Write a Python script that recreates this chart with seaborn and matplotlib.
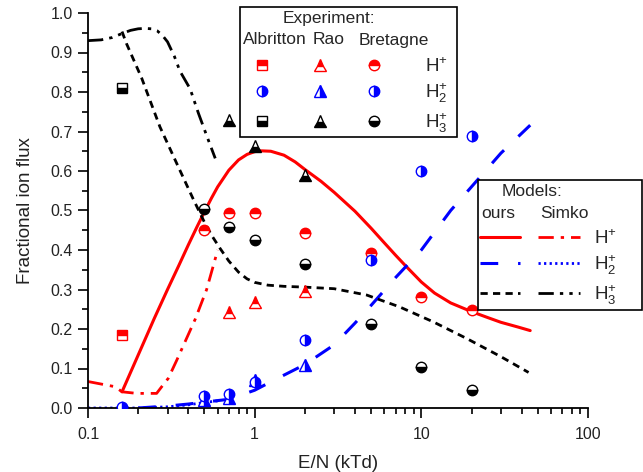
import numpy as np
import matplotlib
matplotlib.use("Agg")
import matplotlib.pyplot as plt
from matplotlib.lines import Line2D
from matplotlib.patches import Rectangle
from matplotlib.ticker import LogLocator, MultipleLocator, FixedLocator, NullFormatter
import seaborn as sns

# ---------------- model curves ----------------
ours_hp_x = [0.16, 0.2, 0.25, 0.3, 0.35, 0.4, 0.45, 0.5, 0.55, 0.6, 0.7, 0.8, 0.9, 1.0, 1.1,
             1.25, 1.5, 1.75, 2, 2.5, 3, 4, 5, 6, 7, 8, 10, 12, 15, 20, 25, 30, 38, 45]
ours_hp_y = [0.041, 0.134, 0.227, 0.300, 0.360, 0.413, 0.458, 0.497, 0.531, 0.560, 0.602, 0.628,
             0.642, 0.649, 0.651, 0.650, 0.640, 0.623, 0.604, 0.574, 0.546, 0.498, 0.455, 0.418,
             0.387, 0.361, 0.319, 0.291, 0.266, 0.244, 0.229, 0.217, 0.205, 0.196]

ours_h2_x = [0.2, 0.3, 0.4, 0.5, 0.7, 1.0, 1.3, 2.0, 3.0, 4.0, 5.0, 7.0, 10, 15, 20, 30, 45]
ours_h2_y = [0.0, 0.005, 0.010, 0.015, 0.022, 0.045, 0.070, 0.110, 0.160, 0.215, 0.260, 0.330,
             0.400, 0.500, 0.560, 0.645, 0.716]

ours_h3_x = [0.16, 0.17, 0.21, 0.27, 0.34, 0.43, 0.5, 0.55, 0.62, 0.7, 0.8, 0.9, 1.0, 1.2, 1.5,
             2.0, 3.0, 4.7, 7.4, 11.8, 18.7, 30, 44]
ours_h3_y = [0.953, 0.923, 0.835, 0.712, 0.620, 0.527, 0.470, 0.438, 0.404, 0.372, 0.344, 0.327,
             0.318, 0.311, 0.308, 0.306, 0.302, 0.286, 0.256, 0.218, 0.176, 0.130, 0.090]

simko_hp_x = [0.1, 0.145, 0.16, 0.196, 0.258, 0.277, 0.303, 0.34, 0.44, 0.515, 0.6]
simko_hp_y = [0.067, 0.054, 0.041, 0.037, 0.037, 0.054, 0.075, 0.120, 0.225, 0.300, 0.400]

simko_h2_x = [0.1, 0.2, 0.3, 0.4, 0.5, 0.6]
simko_h2_y = [0.0, 0.0, 0.003, 0.008, 0.014, 0.018]

simko_h3_x = [0.1, 0.12, 0.14, 0.16, 0.18, 0.2, 0.22, 0.24, 0.26, 0.28, 0.3, 0.33, 0.356, 0.41,
              0.46, 0.52, 0.58]
simko_h3_y = [0.930, 0.932, 0.938, 0.948, 0.956, 0.960, 0.961, 0.960, 0.955, 0.943, 0.927, 0.890,
              0.853, 0.808, 0.746, 0.685, 0.632]

# ---------------- experimental points ----------------
alb_x = [0.16]
alb_hp = [0.185]
alb_h2 = [0.003]
alb_h3 = [0.81]

rao_hp_x = [0.7, 1.0, 2.0]
rao_hp_y = [0.242, 0.268, 0.297]
rao_h2_x = [0.5, 0.7, 1.0, 2.0]
rao_h2_y = [0.020, 0.025, 0.070, 0.109]
rao_h3_x = [0.7, 1.0, 2.0]
rao_h3_y = [0.730, 0.663, 0.590]

bre_x = [0.5, 0.7, 1.0, 2.0, 5.0, 10.0, 20.0]
bre_hp = [0.450, 0.493, 0.493, 0.442, 0.393, 0.280, 0.248]
bre_h2 = [0.030, 0.035, 0.065, 0.172, 0.375, 0.600, 0.689]
bre_h3 = [0.503, 0.457, 0.425, 0.364, 0.212, 0.103, 0.046]

x_ticks = [0.1, 1, 10, 100]
x_ticklabels = ["0.1", "1", "10", "100"]

RED, BLUE, BLACK = "#ff0000", "#0000ff", "#000000"

sns.set_style("ticks")
plt.rcParams["font.family"] = ["Liberation Sans", "DejaVu Sans"]
plt.rcParams["mathtext.fontset"] = "custom"
plt.rcParams["mathtext.rm"] = "Liberation Sans"
plt.rcParams["mathtext.it"] = "Liberation Sans"

W, H = 643, 472
fig = plt.figure(figsize=(W / 100, H / 100), dpi=100)
ax = fig.add_axes([88 / W, 1 - 408 / H, 500 / W, 395 / H])

# line styles
sty = {
    "ours_hp": dict(color=RED, lw=2.2, linestyle="-"),
    "ours_h2": dict(color=BLUE, lw=2.2, linestyle=(0, (5.8, 6.5))),
    "ours_h3": dict(color=BLACK, lw=2.0, linestyle=(0, (2.6, 1.9))),
    "simko_hp": dict(color=RED, lw=2.0, linestyle=(0, (5.5, 2.5, 1.2, 2.5))),
    "simko_h2": dict(color=BLUE, lw=2.0, linestyle=(0, (0.8, 1.2))),
    "simko_h3": dict(color=BLACK, lw=2.0, linestyle=(0, (5.5, 2.2, 1.2, 2.2, 1.2, 2.2))),
}

curves = [
    (ours_hp_x, ours_hp_y, "ours_hp"),
    (ours_h2_x, ours_h2_y, "ours_h2"),
    (ours_h3_x, ours_h3_y, "ours_h3"),
    (simko_hp_x, simko_hp_y, "simko_hp"),
    (simko_h2_x, simko_h2_y, "simko_h2"),
    (simko_h3_x, simko_h3_y, "simko_h3"),
]
for xs, ys, key in curves:
    s = sty[key]
    sns.lineplot(x=xs, y=ys, ax=ax, color=s["color"], linewidth=s["lw"],
                 linestyle=s["linestyle"], estimator=None, sort=False, zorder=2)

# marker styles: (marker, size); fill side depends on the ion
mk = {
    "alb": ("s", 6.5),
    "rao": ("^", 8.0),
    "bre": ("o", 7.5),
}
fills = {RED: "top", BLUE: "right", BLACK: "bottom"}


def points(xs, ys, src, color):
    m, ms = mk[src]
    sns.lineplot(x=xs, y=ys, ax=ax, marker=m, markersize=ms, linestyle="",
                 color=color, markerfacecolor=color, markeredgecolor=color,
                 markerfacecoloralt="white", fillstyle=fills[color],
                 markeredgewidth=1.0, estimator=None, sort=False, zorder=3)


points(alb_x, alb_hp, "alb", RED)
points(alb_x, alb_h2, "bre", BLUE)
points(alb_x, alb_h3, "alb", BLACK)
points(rao_hp_x, rao_hp_y, "rao", RED)
points(rao_h2_x, rao_h2_y, "rao", BLUE)
points(rao_h3_x, rao_h3_y, "rao", BLACK)
points(bre_x, bre_hp, "bre", RED)
points(bre_x, bre_h2, "bre", BLUE)
points(bre_x, bre_h3, "bre", BLACK)

# axes
ax.set_xscale("log")
ax.set_xlim(0.1, 100)
ax.set_ylim(0, 1.0)
ax.xaxis.set_major_locator(FixedLocator(x_ticks))
ax.set_xticklabels(x_ticklabels)
ax.xaxis.set_minor_locator(LogLocator(base=10, subs=np.arange(2, 10)))
ax.xaxis.set_minor_formatter(NullFormatter())
ax.yaxis.set_major_locator(MultipleLocator(0.1))
ax.yaxis.set_minor_locator(MultipleLocator(0.05))
ax.yaxis.set_major_formatter(plt.FuncFormatter(lambda v, p: f"{v:.1f}"))
ax.tick_params(which="major", direction="out", length=7, width=1.2, labelsize=11.5, pad=4,
               color="black", labelcolor="#222222")
ax.tick_params(axis="x", which="major", pad=7)
ax.tick_params(which="minor", direction="out", length=4, width=1.2, color="black")
for sp in ["top", "right"]:
    ax.spines[sp].set_visible(False)
for sp in ["left", "bottom"]:
    ax.spines[sp].set_linewidth(1.3)
    ax.spines[sp].set_color("black")
ax.set_xlabel("E/N (kTd)", fontsize=13.5, labelpad=9, color="#222222")
ax.set_ylabel("Fractional ion flux", fontsize=13.5, labelpad=12, color="#222222")


# ---------------- legend tables ----------------
def fx(px):
    return px / W


def fy(py):
    return 1 - py / H


ion_labels = [r"$\mathregular{H^{+}}$", r"$\mathregular{H_{2}^{+}}$", r"$\mathregular{H_{3}^{+}}$"]
ion_colors = [RED, BLUE, BLACK]
LFS = 12.5

# experiment box
fig.add_artist(Rectangle((fx(240), fy(137)), fx(457) - fx(240), fy(7) - fy(137),
                         transform=fig.transFigure, facecolor="white", edgecolor="black",
                         lw=1.2, zorder=5))
fig.text(fx(329), fy(19), "Experiment:", ha="center", va="center", fontsize=LFS, zorder=6)
fig.text(fx(243), fy(40), "Albritton", ha="left", va="center", fontsize=LFS, zorder=6)
fig.text(fx(313), fy(40), "Rao", ha="left", va="center", fontsize=LFS, zorder=6)
fig.text(fx(359), fy(40), "Bretagne", ha="left", va="center", fontsize=LFS, zorder=6)
row_y = [65, 91, 121]
col_x = {"alb": 262, "rao": 320, "bre": 374}
for ry, lab, col in zip(row_y, ion_labels, ion_colors):
    for src, cx in col_x.items():
        m, ms = mk[src]
        if src == "alb" and col == BLUE:
            m, ms = mk["bre"]
        fig.add_artist(Line2D([fx(cx)], [fy(ry)], transform=fig.transFigure, marker=m,
                              markersize=ms, linestyle="", color=col, markerfacecolor=col,
                              markeredgecolor=col, markerfacecoloralt="white",
                              fillstyle=fills[col], markeredgewidth=1.0, zorder=6))
    fig.text(fx(425), fy(ry + 2), lab, ha="left", va="center", fontsize=LFS + 1, zorder=6)

# models box
fig.add_artist(Rectangle((fx(478), fy(310)), fx(642) - fx(478), fy(180) - fy(310),
                         transform=fig.transFigure, facecolor="white", edgecolor="black",
                         lw=1.2, zorder=5, clip_on=False))
fig.text(fx(532), fy(192), "Models:", ha="center", va="center", fontsize=LFS, zorder=6)
fig.text(fx(481), fy(214), "ours", ha="left", va="center", fontsize=LFS, zorder=6)
fig.text(fx(540), fy(214), "Simko", ha="left", va="center", fontsize=LFS, zorder=6)
mrow_y = [237, 263, 293]
for ry, lab, keys in zip(mrow_y, ion_labels,
                         [("ours_hp", "simko_hp"), ("ours_h2", "simko_h2"), ("ours_h3", "simko_h3")]):
    for key, (x0, x1) in zip(keys, [(480, 520), (538, 580)]):
        s = sty[key]
        fig.add_artist(Line2D([fx(x0), fx(x1)], [fy(ry), fy(ry)], transform=fig.transFigure,
                              color=s["color"], lw=s["lw"], linestyle=s["linestyle"], zorder=6))
    fig.text(fx(594), fy(ry + 2), lab, ha="left", va="center", fontsize=LFS + 1, zorder=6)

fig.savefig("out.png", dpi=100, facecolor="white")
